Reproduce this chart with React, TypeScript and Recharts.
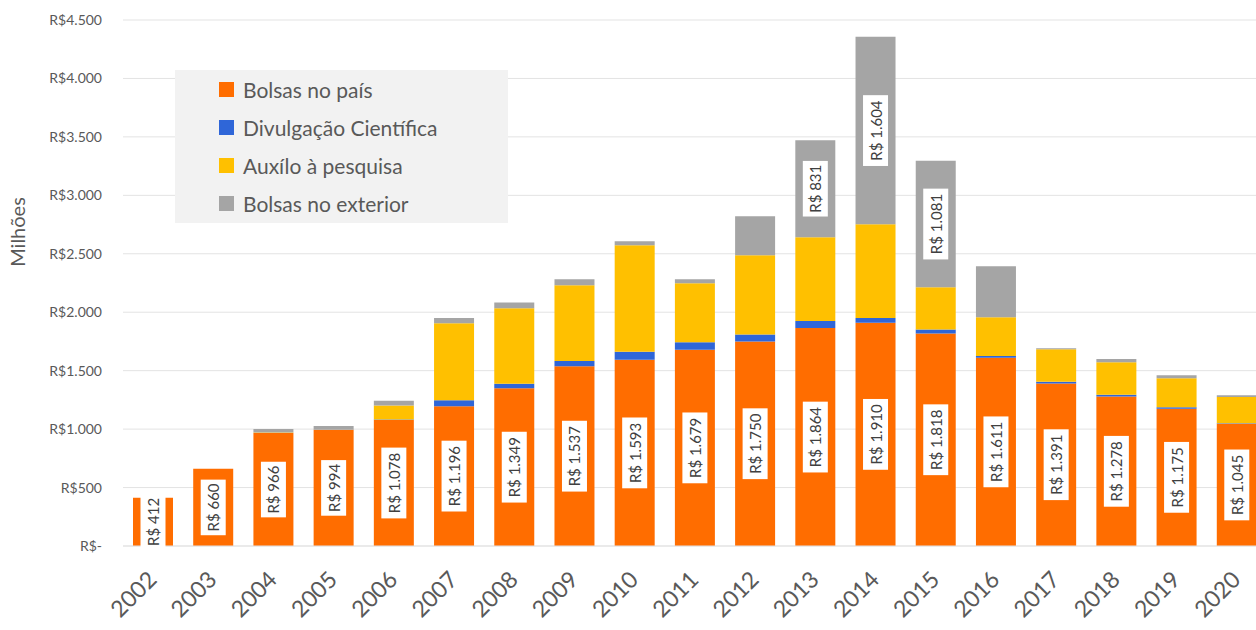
import React from "react";
import { BarChart, Bar, XAxis, YAxis, CartesianGrid, Legend, LabelList } from "recharts";

const years = [
  "2002", "2003", "2004", "2005", "2006", "2007", "2008", "2009", "2010", "2011",
  "2012", "2013", "2014", "2015", "2016", "2017", "2018", "2019", "2020",
];
const bolsasPais = [412, 660, 966, 994, 1078, 1196, 1349, 1537, 1593, 1679, 1750, 1864, 1910, 1818, 1611, 1391, 1278, 1175, 1045];
const divulgacao = [0, 0, 0, 0, 5, 50, 40, 45, 68, 65, 60, 60, 40, 35, 15, 15, 15, 12, 5];
const auxilio = [0, 0, 5, 0, 120, 660, 645, 648, 912, 504, 677, 717, 802, 361, 331, 277, 280, 249, 224];
const bolsasExterior = [0, 0, 30, 32, 40, 45, 50, 52, 34, 35, 333, 831, 1604, 1081, 436, 8, 27, 25, 15];
const yTicks = [0, 500, 1000, 1500, 2000, 2500, 3000, 3500, 4000, 4500];

const SERIES = [
  { key: "pais", name: "Bolsas no país", color: "#ff6d00", labelMin: 400 },
  { key: "divulgacao", name: "Divulgação Científica", color: "#2f66d8", labelMin: null },
  { key: "auxilio", name: "Auxílo à pesquisa", color: "#ffc000", labelMin: null },
  { key: "exterior", name: "Bolsas no exterior", color: "#a5a5a5", labelMin: 800 },
];

const data = years.map((year, i) => ({
  year,
  pais: bolsasPais[i],
  divulgacao: divulgacao[i],
  auxilio: auxilio[i],
  exterior: bolsasExterior[i],
}));

const FONT = "Lato, 'Open Sans', sans-serif";

function thousands(v: number) {
  return String(v).replace(/\B(?=(\d{3})+(?!\d))/g, ".");
}

function yTickFormat(v: number) {
  return v === 0 ? "R$-" : "R$" + thousands(v);
}

function XTick({ x, y, payload }: any) {
  const ax = x + 5;
  const ay = y + 27;
  return (
    <text
      x={ax}
      y={ay}
      transform={`rotate(-45 ${ax} ${ay})`}
      textAnchor="end"
      fontSize={23}
      fontFamily={FONT}
      fill="#595959"
    >
      {payload.value}
    </text>
  );
}

function ValueBox(props: any) {
  const { x, y, width, height, value, min } = props;
  if (value == null || value < min) return null;
  const text = "R$ " + thousands(value);
  const boxH = text.length * 7.6 + 10;
  const boxW = 25;
  const cx = x + width / 2;
  const cy = y + height / 2;
  return (
    <g>
      <rect x={cx - boxW / 2} y={cy - boxH / 2} width={boxW} height={boxH} fill="#ffffff" />
      <text
        x={cx}
        y={cy}
        transform={`rotate(-90 ${cx} ${cy})`}
        textAnchor="middle"
        dominantBaseline="central"
        fontSize={15}
        fontFamily={FONT}
        fill="#404040"
      >
        {text}
      </text>
    </g>
  );
}

function LegendBox() {
  return (
    <div
      style={{
        background: "#f2f2f2",
        width: 333,
        height: 153,
        boxSizing: "border-box",
        padding: "0 0 0 44px",
        fontFamily: FONT,
        fontSize: 21,
        color: "#595959",
      }}
    >
      {SERIES.map((s) => (
        <div key={s.key} style={{ display: "flex", alignItems: "center", height: 38 }}>
          <span style={{ width: 15, height: 15, background: s.color, marginRight: 9, flexShrink: 0 }} />
          <span>{s.name}</span>
        </div>
      ))}
    </div>
  );
}

export default function App() {
  return (
    <div style={{ position: "absolute", left: 0, top: 0, width: 1256, height: 630, overflow: "hidden", background: "#fff" }}>
      <BarChart
        width={1267}
        height={630}
        data={data}
        margin={{ top: 20, right: 0, bottom: 0, left: 0 }}
        barSize={40}
      >
        <CartesianGrid vertical={false} stroke="#e3e3e3" />
        <XAxis
          dataKey="year"
          height={84}
          tick={<XTick />}
          tickLine={false}
          axisLine={{ stroke: "#e3e3e3" }}
          interval={0}
        />
        <YAxis
          width={123}
          domain={[0, 4500]}
          ticks={yTicks}
          tickFormatter={yTickFormat}
          tickLine={false}
          axisLine={false}
          tickSize={0}
          tickMargin={21}
          tick={{ fontSize: 14, fontFamily: FONT, fill: "#595959" }}
          label={{
            content: () => (
              <text
                x={25}
                y={232}
                transform="rotate(-90 25 232)"
                textAnchor="middle"
                fontSize={20}
                fontFamily={FONT}
                fill="#595959"
              >
                Milhões
              </text>
            ),
          }}
        />
        <Legend
          layout="vertical"
          align="center"
          verticalAlign="middle"
          content={<LegendBox />}
          wrapperStyle={{ left: 175, top: 70, width: 333, height: 153 }}
        />
        {SERIES.map((s) => (
          <Bar key={s.key} dataKey={s.key} name={s.name} stackId="a" fill={s.color} isAnimationActive={false}>
            {s.labelMin != null && <LabelList dataKey={s.key} content={<ValueBox min={s.labelMin} />} />}
          </Bar>
        ))}
      </BarChart>
    </div>
  );
}
